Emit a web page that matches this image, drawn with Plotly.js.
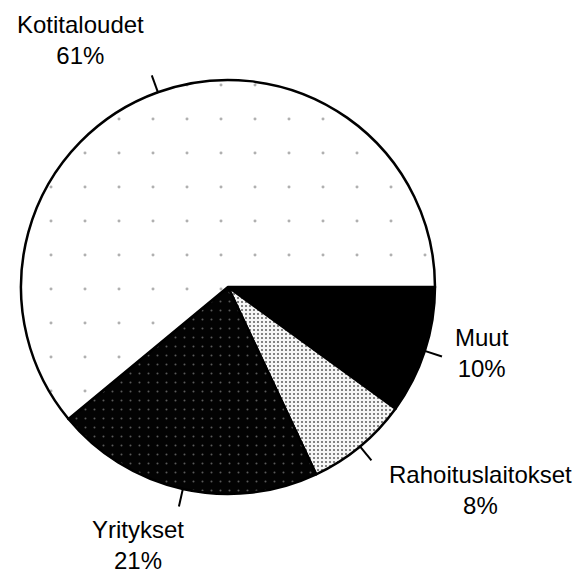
<!DOCTYPE html>
<html>
<head>
<meta charset="utf-8">
<script src="https://cdn.plot.ly/plotly-3.0.1.min.js"></script>
<style>html,body{margin:0;padding:0;background:#fff;}#chart{width:583px;height:573px;}</style>
</head>
<body>
<div id="chart"></div>
<script>
// Data
const categories = ["Muut", "Rahoituslaitokset", "Yritykset", "Kotitaloudet"];
const shares = [10, 8, 21, 61];
const shareLabels = ["10%", "8%", "21%", "61%"];

// Geometry (pixels, margin 0)
const W = 583, H = 573;
const cx = 228, cy = 287, R = 207;
const domX = [(cx - R) / W, (cx + R) / W];
const domY = [1 - (cy + R) / H, 1 - (cy - R) / H];

// Leader lines at mid-angle of each slice (clockwise from 3 o'clock)
const total = shares.reduce((a, b) => a + b, 0);
const shapes = [];
let cum = 0;
shares.forEach(v => {
  const mid = (cum + v / 2) / total * 2 * Math.PI;
  cum += v;
  const r1 = R - 1, r2 = R + 18;
  const x1 = cx + r1 * Math.cos(mid), y1 = cy + r1 * Math.sin(mid);
  const x2 = cx + r2 * Math.cos(mid), y2 = cy + r2 * Math.sin(mid);
  shapes.push({type: 'line', xref: 'paper', yref: 'paper',
    x0: x1 / W, y0: 1 - y1 / H, x1: x2 / W, y1: 1 - y2 / H,
    line: {color: '#000', width: 2}});
});

// Label positions (pixels: center x, center y of first line)
const labelPos = [[482, 337], [481, 474], [138, 529], [80, 24]];
const annotations = categories.map((c, i) => ({
  xref: 'paper', yref: 'paper',
  x: labelPos[i][0] / W, y: 1 - (labelPos[i][1] + 16) / H,
  xanchor: 'center', yanchor: 'middle',
  text: c + '<br>' + shareLabels[i],
  showarrow: false, align: 'center',
  font: {family: 'Liberation Sans, Arial, sans-serif', size: 24, color: '#000'}
}));

const trace = {
  type: 'pie',
  labels: categories,
  values: shares,
  sort: false,
  direction: 'clockwise',
  rotation: 90,
  textinfo: 'none',
  hoverinfo: 'label+percent',
  domain: {x: domX, y: domY},
  marker: {
    colors: ['#000000', '#e6e6e6', '#111111', '#ffffff'],
    line: {color: '#000', width: 2.5},
    pattern: {
      shape: ['', '.', '.', '.'],
      fgcolor: ['#000', '#666', '#5a5a5a', '#b0b0b0'],
      bgcolor: ['#000', '#f6f6f6', '#030303', '#ffffff'],
      size: [8, 4, 9, 34],
      solidity: [0.3, 0.22, 0.04, 0.006]
    }
  }
};

const layout = {
  width: W, height: H,
  margin: {l: 0, r: 0, t: 0, b: 0},
  paper_bgcolor: '#fff',
  showlegend: false,
  shapes: shapes,
  annotations: annotations
};

Plotly.newPlot('chart', [trace], layout, {displayModeBar: false, staticPlot: true});
</script>
</body>
</html>
